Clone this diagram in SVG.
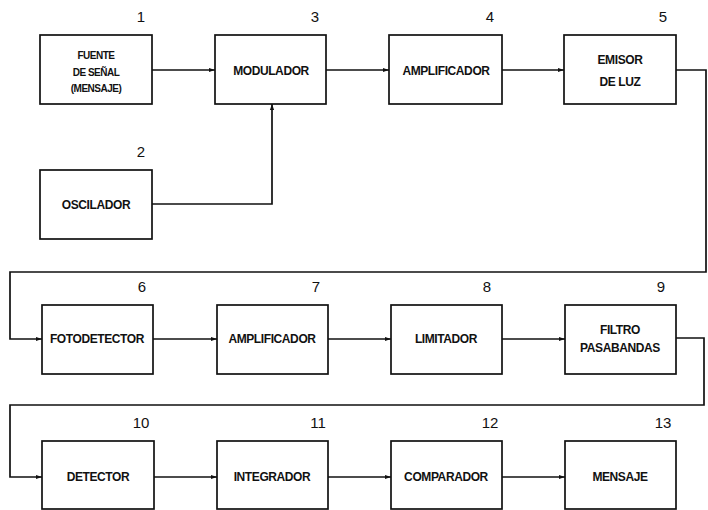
<svg xmlns="http://www.w3.org/2000/svg" width="708" height="510" viewBox="0 0 708 510">
<style>
.box{fill:#fff;stroke:#111;stroke-width:1.7}
.lbl{font-family:"Liberation Sans",Arial,sans-serif;font-size:12px;font-weight:bold;fill:#111;text-anchor:middle;letter-spacing:-0.4px}
.sm{font-size:10px;letter-spacing:-0.5px}
.num{font-family:"Liberation Sans",Arial,sans-serif;font-size:15px;fill:#111;text-anchor:middle}
.con{fill:none;stroke:#111;stroke-width:1.7}
</style>
<defs>
<marker id="ah" viewBox="0 0 10 10" refX="10" refY="5" markerWidth="8" markerHeight="6" markerUnits="userSpaceOnUse" orient="auto">
<path d="M0,1.5 L10,5 L0,8.5 z" fill="#111"/>
</marker>
</defs>
<rect width="708" height="510" fill="#fff"/>
<g id="connectors">
<line class="con" x1="152" y1="70" x2="215" y2="70" marker-end="url(#ah)"/>
<polyline class="con" points="152,204 272,204 272,104" marker-end="url(#ah)"/>
<line class="con" x1="326" y1="70" x2="389" y2="70" marker-end="url(#ah)"/>
<line class="con" x1="502" y1="70" x2="564" y2="70" marker-end="url(#ah)"/>
<polyline class="con" points="676,70 706,70 706,272 10,272 10,339 42,339" marker-end="url(#ah)"/>
<line class="con" x1="153" y1="339" x2="217" y2="339" marker-end="url(#ah)"/>
<line class="con" x1="328" y1="339" x2="391" y2="339" marker-end="url(#ah)"/>
<line class="con" x1="502" y1="339" x2="565" y2="339" marker-end="url(#ah)"/>
<polyline class="con" points="676,338 704,338 704,405 10,405 10,477 42,477" marker-end="url(#ah)"/>
<line class="con" x1="154" y1="477" x2="217" y2="477" marker-end="url(#ah)"/>
<line class="con" x1="328" y1="477" x2="391" y2="477" marker-end="url(#ah)"/>
<line class="con" x1="502" y1="477" x2="565" y2="477" marker-end="url(#ah)"/>
</g>
<g id="n1"><rect class="box" x="40" y="35" width="112" height="69"/><text class="num" x="141" y="22">1</text>
<text class="lbl sm" x="96" y="59">FUENTE</text><text class="lbl sm" x="96" y="76">DE SEÑAL</text><text class="lbl sm" x="96" y="92">(MENSAJE)</text></g>
<g id="n2"><rect class="box" x="40" y="170" width="112" height="69"/><text class="num" x="141" y="157">2</text>
<text class="lbl" x="96" y="209">OSCILADOR</text></g>
<g id="n3"><rect class="box" x="215" y="35" width="111" height="69"/><text class="num" x="315" y="22">3</text>
<text class="lbl" x="271" y="75">MODULADOR</text></g>
<g id="n4"><rect class="box" x="389" y="35" width="113" height="69"/><text class="num" x="490" y="22">4</text>
<text class="lbl" x="446" y="75">AMPLIFICADOR</text></g>
<g id="n5"><rect class="box" x="564" y="35" width="112" height="69"/><text class="num" x="663" y="22">5</text>
<text class="lbl" x="620" y="64">EMISOR</text><text class="lbl" x="620" y="86">DE LUZ</text></g>
<g id="n6"><rect class="box" x="42" y="305" width="111" height="69"/><text class="num" x="142" y="292">6</text>
<text class="lbl" x="97" y="343">FOTODETECTOR</text></g>
<g id="n7"><rect class="box" x="217" y="305" width="111" height="69"/><text class="num" x="316" y="292">7</text>
<text class="lbl" x="272" y="343">AMPLIFICADOR</text></g>
<g id="n8"><rect class="box" x="391" y="305" width="111" height="69"/><text class="num" x="487" y="292">8</text>
<text class="lbl" x="446" y="343">LIMITADOR</text></g>
<g id="n9"><rect class="box" x="565" y="305" width="111" height="69"/><text class="num" x="661" y="292">9</text>
<text class="lbl" x="620" y="334">FILTRO</text><text class="lbl" x="620" y="352">PASABANDAS</text></g>
<g id="n10"><rect class="box" x="42" y="441" width="112" height="68"/><text class="num" x="141" y="428">10</text>
<text class="lbl" x="98" y="481">DETECTOR</text></g>
<g id="n11"><rect class="box" x="217" y="441" width="111" height="68"/><text class="num" x="318" y="428">11</text>
<text class="lbl" x="272" y="481">INTEGRADOR</text></g>
<g id="n12"><rect class="box" x="391" y="441" width="111" height="68"/><text class="num" x="490" y="428">12</text>
<text class="lbl" x="446" y="481">COMPARADOR</text></g>
<g id="n13"><rect class="box" x="565" y="441" width="111" height="68"/><text class="num" x="663" y="428">13</text>
<text class="lbl" x="620" y="481">MENSAJE</text></g>
</svg>
